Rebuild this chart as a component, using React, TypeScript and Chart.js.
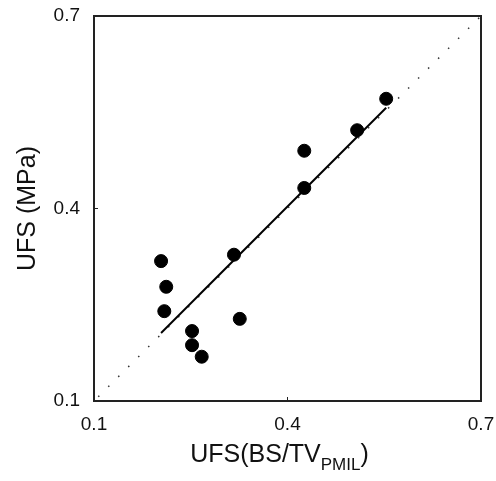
import React, { useEffect, useRef } from "react";
import { Chart, registerables } from "chart.js";

Chart.register(...registerables);

// Data
const OBS_X = [0.204, 0.212, 0.209, 0.252, 0.252, 0.267, 0.317, 0.326, 0.426, 0.426, 0.508, 0.553];
const OBS_Y = [0.318, 0.278, 0.240, 0.209, 0.187, 0.169, 0.328, 0.228, 0.490, 0.432, 0.522, 0.571];
const FIT_X = [0.204, 0.553];
const FIT_Y = [0.206, 0.557];
const IDENTITY = [0.1, 0.7];
const AXIS_TICKS = [0.1, 0.4, 0.7];
const AXIS_MIN = 0.1;
const AXIS_MAX = 0.7;
const X_TITLE_MAIN = "UFS(BS/TV";
const X_TITLE_SUB = "PMIL";
const X_TITLE_END = ")";
const Y_TITLE = "UFS (MPa)";

const FONT = "'Liberation Sans', Arial, sans-serif";
const INK = "#111";

const framePlugin = {
  id: "frame",
  afterDatasetsDraw(chart: any) {
    const { ctx, chartArea, scales } = chart;
    ctx.save();
    ctx.strokeStyle = "#222";
    ctx.lineWidth = 2;
    ctx.strokeRect(chartArea.left, chartArea.top, chartArea.right - chartArea.left, chartArea.bottom - chartArea.top);
    ctx.lineWidth = 1;
    const mid = AXIS_TICKS[1];
    const px = scales.x.getPixelForValue(mid);
    const py = scales.y.getPixelForValue(mid);
    ctx.beginPath();
    ctx.moveTo(px, chartArea.bottom);
    ctx.lineTo(px, chartArea.bottom - 4);
    ctx.moveTo(chartArea.left, py);
    ctx.lineTo(chartArea.left + 4, py);
    ctx.stroke();
    ctx.restore();
  },
  afterDraw(chart: any) {
    const { ctx, chartArea } = chart;
    ctx.save();
    ctx.fillStyle = INK;
    ctx.textBaseline = "alphabetic";
    const mainFont = `25px ${FONT}`;
    const subFont = `17px ${FONT}`;
    ctx.font = mainFont;
    const w1 = ctx.measureText(X_TITLE_MAIN).width;
    const w3 = ctx.measureText(X_TITLE_END).width;
    ctx.font = subFont;
    const w2 = ctx.measureText(X_TITLE_SUB).width;
    const total = w1 + w2 + w3;
    const cx = (chartArea.left + chartArea.right) / 2 - 8;
    let x = cx - total / 2;
    const base = chartArea.bottom + 61;
    ctx.textAlign = "left";
    ctx.font = mainFont;
    ctx.fillText(X_TITLE_MAIN, x, base);
    x += w1;
    ctx.font = subFont;
    ctx.fillText(X_TITLE_SUB, x, base + 8);
    x += w2;
    ctx.font = mainFont;
    ctx.fillText(X_TITLE_END, x, base);
    ctx.restore();
  },
};

export default function App() {
  const ref = useRef<HTMLCanvasElement | null>(null);

  useEffect(() => {
    if (!ref.current) return;
    const tickSetter = (scale: any) => {
      scale.ticks = AXIS_TICKS.map((v) => ({ value: v }));
    };
    const zeroPad = (s: any) => {
      s.paddingTop = 0;
      s.paddingBottom = 0;
      s.paddingLeft = 0;
      s.paddingRight = 0;
    };
    const chart = new Chart(ref.current, {
      type: "scatter",
      data: {
        datasets: [
          {
            type: "line",
            label: "identity",
            data: IDENTITY.map((v) => ({ x: v, y: v })),
            borderColor: "#333",
            borderWidth: 1.5,
            borderDash: [1.5, 12.6],
            borderDashOffset: -6,
            pointRadius: 0,
            fill: false,
            order: 3,
          } as any,
          {
            type: "line",
            label: "fit",
            data: FIT_X.map((x, i) => ({ x, y: FIT_Y[i] })),
            borderColor: "#000",
            borderWidth: 2,
            pointRadius: 0,
            fill: false,
            order: 2,
          } as any,
          {
            label: "UFS",
            data: OBS_X.map((x, i) => ({ x, y: OBS_Y[i] })),
            backgroundColor: "#000",
            borderColor: "#000",
            pointRadius: 6.5,
            pointHoverRadius: 6.5,
            order: 1,
          },
        ],
      },
      options: {
        animation: false,
        responsive: true,
        maintainAspectRatio: false,
        layout: { padding: { top: 16, right: 15, left: 0, bottom: 0 } },
        plugins: { legend: { display: false }, tooltip: { enabled: false } },
        scales: {
          x: {
            type: "linear",
            min: AXIS_MIN,
            max: AXIS_MAX,
            afterBuildTicks: tickSetter,
            afterFit: (s: any) => {
              s.height = 80;
              zeroPad(s);
            },
            grid: { display: false, drawTicks: false },
            border: { display: false },
            ticks: {
              padding: 12,
              color: INK,
              font: { family: FONT, size: 19 },
              maxRotation: 0,
              autoSkip: false,
              callback: (v: any) => String(Number(v).toFixed(1)),
            },
          },
          y: {
            type: "linear",
            min: AXIS_MIN,
            max: AXIS_MAX,
            afterBuildTicks: tickSetter,
            afterFit: (s: any) => {
              s.width = 94;
              zeroPad(s);
            },
            grid: { display: false, drawTicks: false },
            border: { display: false },
            title: {
              display: true,
              text: Y_TITLE,
              color: INK,
              font: { family: FONT, size: 25 },
              padding: { top: 13, bottom: 0 },
            },
            ticks: {
              padding: 14,
              color: INK,
              font: { family: FONT, size: 19 },
              autoSkip: false,
              callback: (v: any) => String(Number(v).toFixed(1)),
            },
          },
        },
      },
      plugins: [framePlugin],
    });
    return () => chart.destroy();
  }, []);

  return (
    <div style={{ position: "fixed", left: 0, top: 0, width: 496, height: 481, background: "#fff" }}>
      <canvas ref={ref} />
    </div>
  );
}
